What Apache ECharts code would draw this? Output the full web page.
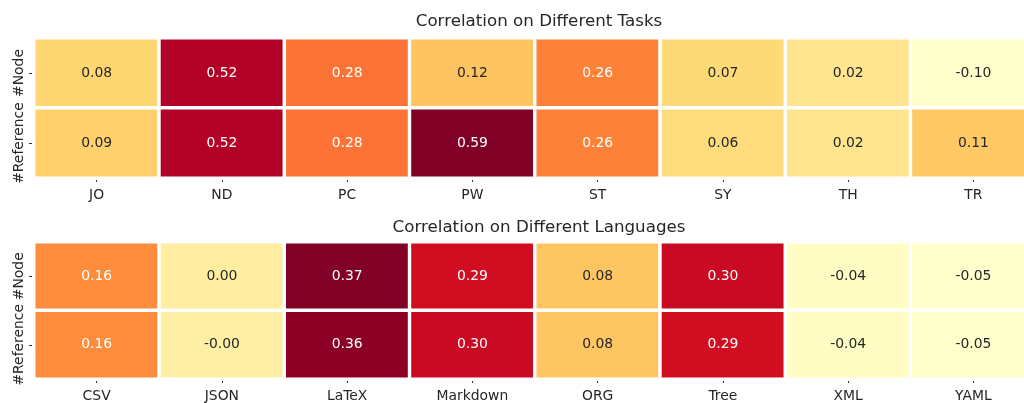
<!DOCTYPE html>
<html>
<head>
<meta charset="utf-8">
<script src="https://cdn.jsdelivr.net/npm/echarts@6/dist/echarts.min.js"></script>
<style>html,body{margin:0;padding:0;background:#fff;overflow:hidden;width:1024px;height:403px;}#c{width:1044px;height:403px;}</style>
</head>
<body>
<div id="c"></div>
<script>
const rowLabels = ['#Node', '#Reference'];
const taskCats = ['JO', 'ND', 'PC', 'PW', 'ST', 'SY', 'TH', 'TR'];
const taskNode = [0.08, 0.52, 0.28, 0.12, 0.26, 0.07, 0.02, -0.10];
const taskRef  = [0.09, 0.52, 0.28, 0.59, 0.26, 0.06, 0.02, 0.11];
const langCats = ['CSV', 'JSON', 'LaTeX', 'Markdown', 'ORG', 'Tree', 'XML', 'YAML'];
const langNode = [0.16, 0.00, 0.37, 0.29, 0.08, 0.30, -0.04, -0.05];
const langRef  = [0.16, -0.003, 0.36, 0.30, 0.08, 0.29, -0.04, -0.05];
const titles = ['Correlation on Different Tasks', 'Correlation on Different Languages'];

const YlOrRd = ['#ffffcc','#ffeda0','#fed976','#feb24c','#fd8d3c','#fc4e2a','#e31a1c','#bd0026','#800026'];
const FONT = 'DejaVu Sans';
const TXT = '#262626';

function build(rows) {
  const all = rows.flat();
  const mn = Math.min(...all), mx = Math.max(...all);
  const data = [];
  rows.forEach((vals, r) => {
    vals.forEach((v, c) => {
      const t = (v - mn) / (mx - mn);
      data.push({ value: [c, r, v], label: { color: t > 0.4 ? '#ffffff' : TXT } });
    });
  });
  return { data, mn, mx };
}
const A = build([taskNode, taskRef]);
const B = build([langNode, langRef]);

const grids = [
  { left: 34, width: 1002, top: 38, height: 140 },
  { left: 34, width: 1002, top: 242, height: 139 }
];

function xAx(i, cats) {
  return {
    type: 'category', gridIndex: i, data: cats, position: 'bottom',
    axisLine: { show: false },
    axisTick: { show: true, interval: 0, alignWithLabel: true, length: 4, lineStyle: { color: '#333', width: 1 } },
    axisLabel: { interval: 0, fontFamily: FONT, fontSize: 13.9, color: TXT, margin: 10 },
    splitLine: { show: false }
  };
}
function yAx(i) {
  return {
    type: 'category', gridIndex: i, data: rowLabels, inverse: true,
    axisLine: { show: false },
    axisTick: { show: true, interval: 0, alignWithLabel: true, length: 5, lineStyle: { color: '#333', width: 1 } },
    axisLabel: { interval: 0, hideOverlap: false, fontFamily: FONT, fontSize: 13.9, color: TXT, rotate: 90, margin: 8 },
    splitLine: { show: false }
  };
}
function ser(i, d) {
  return {
    type: 'heatmap', xAxisIndex: i, yAxisIndex: i, data: d.data,
    label: { show: true, fontFamily: FONT, fontSize: 13.9,
      formatter: p => p.value[2].toFixed(2) },
    itemStyle: { borderColor: '#ffffff', borderWidth: 3.4 },
    emphasis: { disabled: true }
  };
}

const chart = echarts.init(document.getElementById('c'), null, { renderer: 'canvas' });
chart.setOption({
  backgroundColor: '#ffffff',
  animation: false,
  title: [
    { text: titles[0], left: 534, top: 8, textAlign: 'center',
      textStyle: { fontFamily: FONT, fontSize: 16.7, fontWeight: 'normal', color: TXT } },
    { text: titles[1], left: 534, top: 214, textAlign: 'center',
      textStyle: { fontFamily: FONT, fontSize: 16.7, fontWeight: 'normal', color: TXT } }
  ],
  grid: grids,
  xAxis: [xAx(0, taskCats), xAx(1, langCats)],
  yAxis: [yAx(0), yAx(1)],
  visualMap: [
    { show: false, type: 'continuous', seriesIndex: 0, dimension: 2, min: A.mn, max: A.mx, inRange: { color: YlOrRd } },
    { show: false, type: 'continuous', seriesIndex: 1, dimension: 2, min: B.mn, max: B.mx, inRange: { color: YlOrRd } }
  ],
  series: [ser(0, A), ser(1, B)]
});
</script>
</body>
</html>
